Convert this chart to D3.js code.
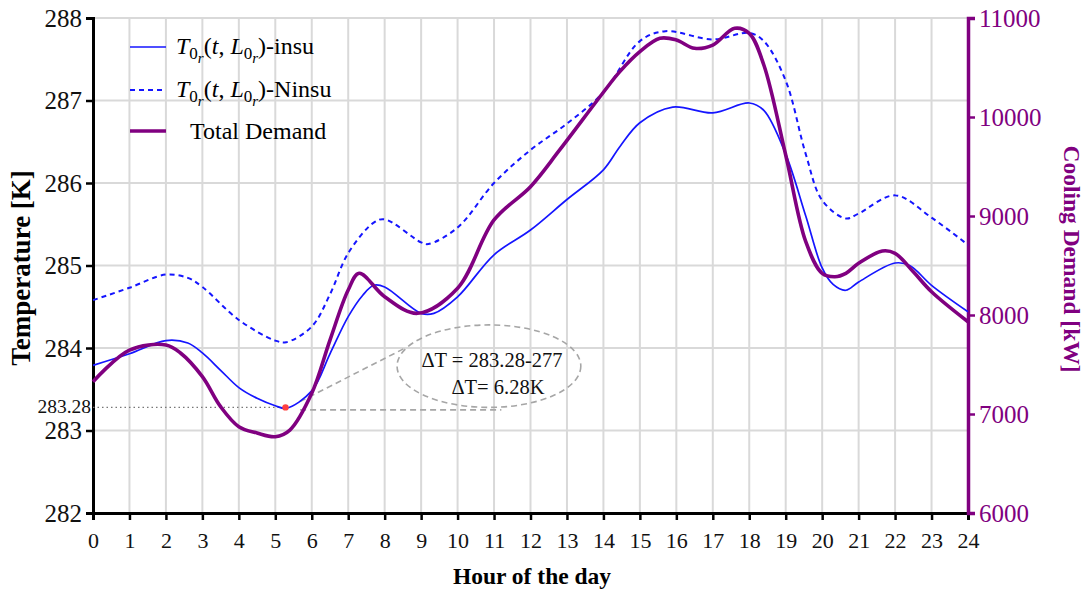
<!DOCTYPE html>
<html>
<head>
<meta charset="utf-8">
<script src="https://cdn.jsdelivr.net/npm/d3@7"></script>
<style>
  body { margin: 0; background: #fff; }
  svg text { font-family: "Liberation Serif", "DejaVu Serif", serif; }
</style>
</head>
<body>
<script>
// hour, temperature [K] - insulated
const insuHours = [0, 1, 2, 2.6, 3, 3.5, 4, 4.5, 5, 5.3, 6, 6.5, 7, 7.4, 7.7, 8, 9, 9.35, 10, 11, 12, 13, 14, 14.45, 15, 15.9, 17, 18, 18.4, 19, 19.55, 20, 20.3, 20.65, 21, 22, 22.4, 23, 24];
const insuTemp = [283.79, 283.93, 284.09, 284.06, 283.94, 283.73, 283.52, 283.39, 283.30, 283.27, 283.48, 283.93, 284.38, 284.64, 284.76, 284.74, 284.42, 284.42, 284.62, 285.13, 285.43, 285.80, 286.16, 286.44, 286.73, 286.92, 286.85, 286.97, 286.88, 286.35, 285.60, 284.97, 284.77, 284.70, 284.80, 285.03, 285.00, 284.76, 284.44];

// non insulated
const ninsuHours = [0, 1, 2, 2.6, 3, 4, 5, 5.3, 6, 6.5, 7, 7.7, 8, 9, 9.2, 10, 11, 12, 13, 14, 15, 15.7, 17, 18, 18.4, 19, 19.55, 20, 20.65, 21, 22, 23, 24];
const ninsuTemp = [284.58, 284.73, 284.89, 284.85, 284.74, 284.34, 284.09, 284.07, 284.26, 284.65, 285.15, 285.52, 285.56, 285.28, 285.26, 285.46, 286.00, 286.40, 286.72, 287.10, 287.72, 287.84, 287.74, 287.82, 287.72, 287.24, 286.35, 285.79, 285.57, 285.63, 285.85, 285.58, 285.25];

// total cooling demand [kW]
const demandHours = [0, 1, 2, 2.4, 3, 3.5, 4, 4.5, 5, 5.4, 6, 6.5, 7, 7.3, 8, 8.9, 10, 11, 12, 12.8, 14, 14.45, 15, 15.55, 16, 16.5, 17, 17.6, 18, 18.4, 19, 19.55, 20, 20.35, 20.65, 21, 21.65, 22, 22.5, 23, 24];
const demandKW = [7326, 7646, 7697, 7616, 7377, 7074, 6872, 6808, 6771, 6838, 7209, 7747, 8252, 8421, 8185, 8017, 8270, 8960, 9296, 9667, 10250, 10458, 10660, 10795, 10778, 10694, 10727, 10896, 10845, 10525, 9616, 8740, 8421, 8387, 8421, 8522, 8646, 8623, 8437, 8235, 7932];

const hourTicks = d3.range(0, 25);
const tempTicks = [282, 283, 284, 285, 286, 287, 288];
const demandTicks = [6000, 7000, 8000, 9000, 10000, 11000];

// annotation (data coordinates)
const minPoint = { h: 5.28, t: 283.28 };
const noteCenter = { h: 10.86, t: 283.78 };
const noteLines = ["\u0394T = 283.28-277", "\u0394T= 6.28K"];

const W = 1086, H = 592;
const m = { left: 93, right: 118, top: 18, bottom: 79 };
const blue = "#1515ff", purple = "#800080", grid = "#d9d9d9";
const serif = "'Liberation Serif', 'DejaVu Serif', serif";

const svg = d3.select("body").append("svg").attr("width", W).attr("height", H);

const x = d3.scaleLinear().domain([0, 24]).range([m.left, W - m.right]);
const y = d3.scaleLinear().domain([282, 288]).range([H - m.bottom, m.top]);
const y2 = d3.scaleLinear().domain([6000, 11000]).range([H - m.bottom, m.top]);

// grid
svg.append("g").selectAll("line").data(hourTicks.slice(1, 24)).enter().append("line")
  .attr("x1", d => x(d)).attr("x2", d => x(d))
  .attr("y1", y(282)).attr("y2", y(288))
  .attr("stroke", grid).attr("stroke-width", 2);
svg.append("g").selectAll("line").data(tempTicks.slice(1)).enter().append("line")
  .attr("x1", x(0)).attr("x2", x(24))
  .attr("y1", d => y(d)).attr("y2", d => y(d))
  .attr("stroke", grid).attr("stroke-width", 2);

// axes
const xAxis = svg.append("g").attr("transform", `translate(0,${y(282)})`)
  .call(d3.axisBottom(x).tickValues(hourTicks).tickSize(7).tickPadding(12).tickFormat(d3.format("d")));
xAxis.attr("font-family", serif);
xAxis.select(".domain").attr("stroke-width", 3);
xAxis.selectAll(".tick line").attr("stroke-width", 2.5);
xAxis.selectAll("text").attr("font-size", 22).attr("fill", "#111");

const yAxis = svg.append("g").attr("transform", `translate(${x(0)},0)`)
  .call(d3.axisLeft(y).tickValues(tempTicks).tickSize(7).tickPadding(4).tickFormat(d3.format("d")));
yAxis.attr("font-family", serif);
yAxis.select(".domain").attr("stroke-width", 3);
yAxis.selectAll(".tick line").attr("stroke-width", 2.5);
yAxis.selectAll("text").attr("font-size", 25).attr("fill", "#111");

const y2Axis = svg.append("g").attr("transform", `translate(${x(24)},0)`)
  .call(d3.axisRight(y2).tickValues(demandTicks).tickSize(7).tickPadding(4).tickFormat(d3.format("d")));
y2Axis.attr("font-family", serif);
y2Axis.select(".domain").attr("stroke", purple).attr("stroke-width", 3.5);
y2Axis.selectAll(".tick line").attr("stroke", purple).attr("stroke-width", 2.5);
y2Axis.selectAll("text").attr("font-size", 25).attr("fill", purple);

// axis titles
svg.append("text").attr("transform", `translate(30,268) rotate(-90)`)
  .attr("text-anchor", "middle").attr("font-size", 27).attr("font-weight", "bold")
  .text("Temperature [K]");
svg.append("text").attr("x", 532).attr("y", 584)
  .attr("text-anchor", "middle").attr("font-size", 23.5).attr("font-weight", "bold")
  .text("Hour of the day");
svg.append("text").attr("transform", `translate(1064,259) rotate(90)`)
  .attr("text-anchor", "middle").attr("font-size", 23.5).attr("font-weight", "bold").attr("fill", purple)
  .text("Cooling Demand [kW]");

// annotation
svg.append("line")
  .attr("x1", x(0)).attr("x2", x(minPoint.h))
  .attr("y1", y(minPoint.t)).attr("y2", y(minPoint.t))
  .attr("stroke", "#777").attr("stroke-width", 1.2).attr("stroke-dasharray", "1.5,3");
svg.append("text").attr("x", x(0) - 2).attr("y", y(minPoint.t) + 6)
  .attr("text-anchor", "end").attr("font-size", 19.5).attr("fill", "#111").text("283.28");

const ann = svg.append("g").attr("fill", "none").attr("stroke", "#a6a6a6")
  .attr("stroke-width", 1.6).attr("stroke-dasharray", "6,4");
ann.append("ellipse")
  .attr("cx", x(noteCenter.h)).attr("cy", y(noteCenter.t))
  .attr("rx", x(noteCenter.h + 2.52) - x(noteCenter.h))
  .attr("ry", y(noteCenter.t - 0.5) - y(noteCenter.t));
ann.append("line")
  .attr("x1", x(minPoint.h + 0.4)).attr("y1", y(minPoint.t + 0.07))
  .attr("x2", x(8.56)).attr("y2", y(284.0));
ann.append("line")
  .attr("x1", x(minPoint.h + 0.4)).attr("y1", y(minPoint.t - 0.03))
  .attr("x2", x(11.2)).attr("y2", y(minPoint.t - 0.03));

svg.append("g").selectAll("text").data(noteLines).enter().append("text")
  .attr("x", (d, i) => x(noteCenter.h) + (i ? 9 : 3))
  .attr("y", (d, i) => y(noteCenter.t) + 1 + i * 27)
  .attr("text-anchor", "middle").attr("font-size", 20.5).attr("fill", "#111")
  .text(d => d);

// series
const tLine = (hs) => d3.line().x((d, i) => x(hs[i])).y(d => y(d)).curve(d3.curveCatmullRom.alpha(0.5));
const dLine = d3.line().x((d, i) => x(demandHours[i])).y(d => y2(d)).curve(d3.curveCatmullRom.alpha(0.5));

svg.append("path").datum(ninsuTemp).attr("d", tLine(ninsuHours))
  .attr("fill", "none").attr("stroke", blue).attr("stroke-width", 2).attr("stroke-dasharray", "5,4");
svg.append("path").datum(insuTemp).attr("d", tLine(insuHours))
  .attr("fill", "none").attr("stroke", blue).attr("stroke-width", 1.7);
svg.append("path").datum(demandKW).attr("d", dLine)
  .attr("fill", "none").attr("stroke", purple).attr("stroke-width", 3.6).attr("stroke-linejoin", "round");

svg.append("circle").attr("cx", x(minPoint.h)).attr("cy", y(minPoint.t)).attr("r", 3.2).attr("fill", "#ff4040");

// legend
const legend = svg.append("g");
const legendItems = [
  { label: "insu", dash: null, color: blue, width: 1.7, yy: 47 },
  { label: "Ninsu", dash: "5,4", color: blue, width: 2, yy: 90 },
  { label: null, dash: null, color: purple, width: 3.6, yy: 131 }
];
legendItems.forEach(it => {
  legend.append("line").attr("x1", 130).attr("x2", 166).attr("y1", it.yy).attr("y2", it.yy)
    .attr("stroke", it.color).attr("stroke-width", it.width).attr("stroke-dasharray", it.dash);
  if (it.label === null) {
    legend.append("text").attr("x", 190).attr("y", it.yy + 8).attr("font-size", 24).text("Total Demand");
    return;
  }
  const t = legend.append("text").attr("x", 176).attr("y", it.yy + 7).attr("font-size", 24);
  t.append("tspan").attr("font-style", "italic").text("T");
  t.append("tspan").attr("font-size", 17).attr("dy", 5).text("0");
  t.append("tspan").attr("font-size", 15).attr("font-style", "italic").attr("dy", 4).text("r");
  t.append("tspan").attr("dy", -9).text("(");
  t.append("tspan").attr("font-style", "italic").text("t");
  t.append("tspan").text(", ");
  t.append("tspan").attr("font-style", "italic").text("L");
  t.append("tspan").attr("font-size", 17).attr("dy", 5).text("0");
  t.append("tspan").attr("font-size", 15).attr("font-style", "italic").attr("dy", 4).text("r");
  t.append("tspan").attr("dy", -9).text(")-" + it.label);
});
</script>
</body>
</html>
